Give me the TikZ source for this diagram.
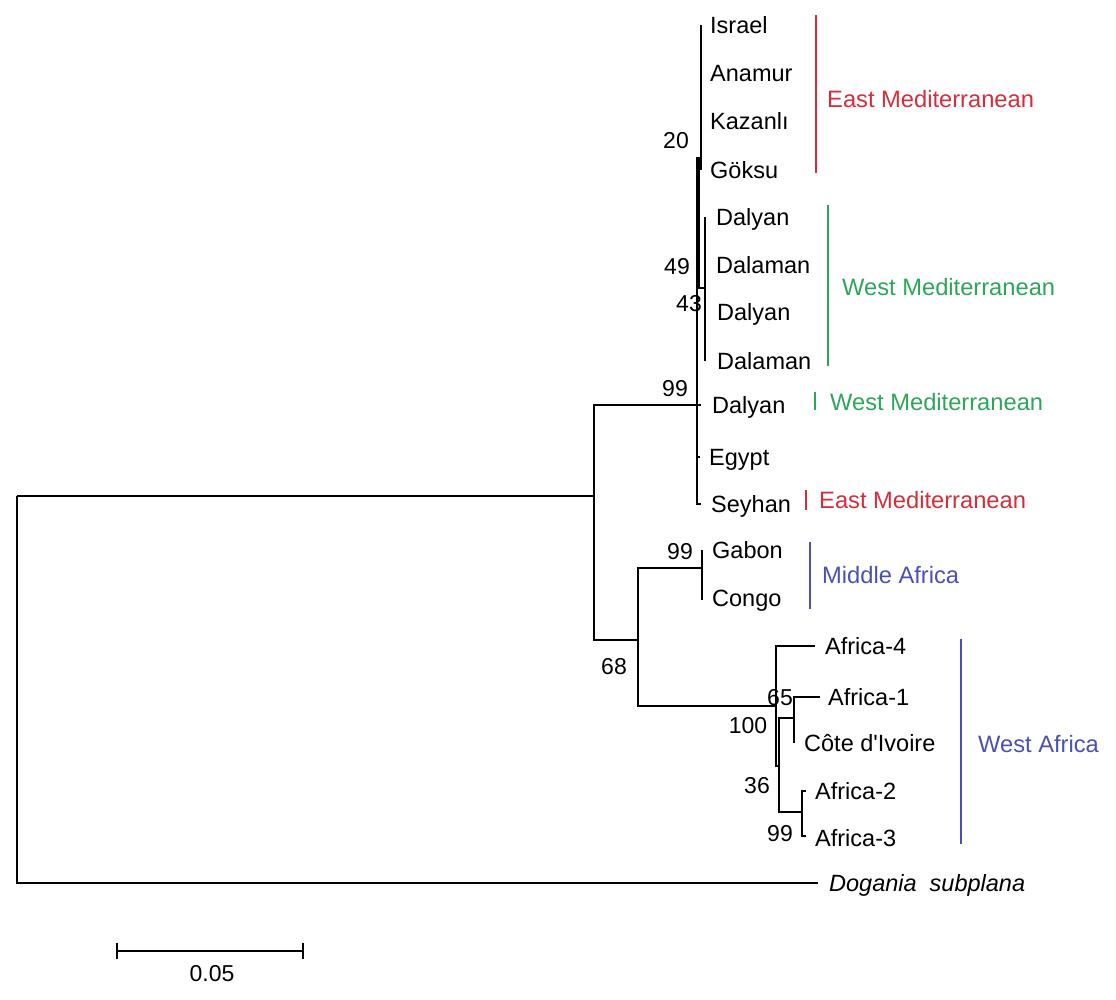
\documentclass[tikz,border=0pt]{standalone}
\usepackage{fontspec}
\setmainfont{Liberation Sans}
\definecolor{emred}{RGB}{212,45,60}
\definecolor{wmgreen}{RGB}{45,165,90}
\definecolor{afblue}{RGB}{75,80,180}

\begin{document}
\begin{tikzpicture}[x=1pt, y=-1pt]
        \tikzstyle{taxon}   = [anchor=west, inner sep=0pt, text height=16.8pt, text depth=0pt, font=\fontsize{23.5}{28}\selectfont]
        \tikzstyle{support} = [inner sep=0pt, text height=16.5pt, text depth=0pt, font=\fontsize{23}{27}\selectfont]
        \tikzstyle{region}  = [anchor=west, inner sep=0pt, text height=16.8pt, text depth=0pt, font=\fontsize{23.7}{28}\selectfont]
        \tikzstyle{branch}  = [line width=2pt]
        \tikzstyle{twig}    = [line width=1.1pt]
        \tikzstyle{bar}     = [line width=2pt]

        \useasboundingbox (0,0) rectangle (1116,1000);

        % inner nodes of the tree
        \coordinate (root) at ( 17, 496);
        \coordinate (n1)   at (594, 496);
        \coordinate (n2)   at (697, 405);
        \coordinate (n3)   at (699, 158);
        \coordinate (n4)   at (701, 158);
        \coordinate (n5)   at (705, 288);
        \coordinate (n6)   at (638, 640);
        \coordinate (n7)   at (702, 568);
        \coordinate (n8)   at (776, 706);
        \coordinate (n9)   at (779, 766);
        \coordinate (n10)  at (794, 718);
        \coordinate (n11)  at (802, 812);

        % tips
        \coordinate (med_l1_t)  at (701,  25);
        \coordinate (med_l2_t)  at (701,  73);
        \coordinate (med_l3_t)  at (701, 121);
        \coordinate (med_l4_t)  at (701, 170);
        \coordinate (med_l5_t)  at (705, 217);
        \coordinate (med_l6_t)  at (705, 265);
        \coordinate (med_l7_t)  at (705, 312);
        \coordinate (med_l8_t)  at (705, 361);
        \coordinate (med_l9_t)  at (701, 405);
        \coordinate (med_l10_t) at (700, 457);
        \coordinate (med_l11_t) at (701, 504);
        \coordinate (maf_l1_t)  at (702, 550);
        \coordinate (maf_l2_t)  at (702, 600);
        \coordinate (waf_l1_t)  at (815, 646);
        \coordinate (waf_l2_t)  at (820, 697);
        \coordinate (waf_l3_t)  at (794, 743);
        \coordinate (waf_l4_t)  at (806, 791);
        \coordinate (waf_l5_t)  at (806, 836);
        \coordinate (og_t)      at (818, 883);

        % taxa
        \node[taxon] at (710,  25) (med_l1)  {Israel};
        \node[taxon] at (710,  73) (med_l2)  {Anamur};
        \node[taxon] at (710, 121) (med_l3)  {Kazanlı};
        \node[taxon] at (710, 170) (med_l4)  {Göksu};
        \node[taxon] at (716, 217) (med_l5)  {Dalyan};
        \node[taxon] at (716, 265) (med_l6)  {Dalaman};
        \node[taxon] at (717, 312) (med_l7)  {Dalyan};
        \node[taxon] at (717, 361) (med_l8)  {Dalaman};
        \node[taxon] at (712, 405) (med_l9)  {Dalyan};
        \node[taxon] at (709, 457) (med_l10) {Egypt};
        \node[taxon] at (711, 504) (med_l11) {Seyhan};
        \node[taxon] at (712, 550) (maf_l1)  {Gabon};
        \node[taxon] at (712, 598) (maf_l2)  {Congo};
        \node[taxon] at (825, 646) (waf_l1)  {Africa-4};
        \node[taxon] at (828, 697) (waf_l2)  {Africa-1};
        \node[taxon] at (804, 743) (waf_l3)  {Côte d\textquotesingle Ivoire};
        \node[taxon] at (815, 791) (waf_l4)  {Africa-2};
        \node[taxon] at (815, 838) (waf_l5)  {Africa-3};
        \node[taxon, font=\fontsize{23.5}{28}\selectfont\itshape] at (829, 883) (og) {Dogania\hspace{13pt}subplana};

        \draw[branch]
          (root) |- (n1)
          (root) |- (og_t)
          (n1)   |- (n2)
          (n1)   |- (n6)
          (n2)   |- (n3)
          (n2)   |- (med_l9_t)
          (n2)   |- (med_l10_t)
          (n2)   |- (med_l11_t)
          (n6)   |- (n7)
          (n6)   |- (n8)
          (n7)   |- (maf_l1_t)
          (n7)   |- (maf_l2_t)
          (n8)   |- (waf_l1_t)
          (n8)   |- (n9)
          (n9)   |- (n10)
          (n9)   |- (n11)
          (n10)  |- (waf_l2_t)
          (n10)  |- (waf_l3_t)
          (n11)  |- (waf_l4_t)
          (n11)  |- (waf_l5_t)
        ;

        \draw[twig]
          (n3) |- (n4)
          (n3) |- (n5)
          (n4) |- (med_l1_t)
          (n4) |- (med_l2_t)
          (n4) |- (med_l3_t)
          (n4) |- (med_l4_t)
          (n5) |- (med_l5_t)
          (n5) |- (med_l6_t)
          (n5) |- (med_l7_t)
          (n5) |- (med_l8_t)
        ;

        % bootstrap values
        \node[support] at (676, 140) (bs4)  {20};
        \node[support] at (677, 266) (bs5)  {49};
        \node[support] at (689, 303) (bs3)  {43};
        \node[support] at (675, 388) (bs2)  {99};
        \node[support] at (680, 551) (bs7)  {99};
        \node[support] at (614, 666) (bs6)  {68};
        \node[support] at (780, 697) (bs10) {65};
        \node[support] at (748, 725) (bs8)  {100};
        \node[support] at (757, 785) (bs9)  {36};
        \node[support] at (780, 833) (bs11) {99};

        % regions
        \coordinate (em1_a) at (816,  15);  \coordinate (em1_b) at (816, 173);
        \coordinate (wm1_a) at (828, 205);  \coordinate (wm1_b) at (828, 366);
        \coordinate (wm2_a) at (815, 392);  \coordinate (wm2_b) at (815, 410);
        \coordinate (em2_a) at (806, 490);  \coordinate (em2_b) at (806, 510);
        \coordinate (maf_a) at (810, 542);  \coordinate (maf_b) at (810, 609);
        \coordinate (waf_a) at (961, 639);  \coordinate (waf_b) at (961, 844);

        \draw[bar, emred]   (em1_a) -- (em1_b)  (em2_a) -- (em2_b);
        \draw[bar, wmgreen] (wm1_a) -- (wm1_b)  (wm2_a) -- (wm2_b);
        \draw[bar, afblue]  (maf_a) -- (maf_b)  (waf_a) -- (waf_b);

        \node[region, text=emred]   at (827,  99) (em1) {East Mediterranean};
        \node[region, text=wmgreen] at (842, 287) (wm1) {West Mediterranean};
        \node[region, text=wmgreen] at (830, 402) (wm2) {West Mediterranean};
        \node[region, text=emred]   at (819, 500) (em2) {East Mediterranean};
        \node[region, text=afblue]  at (822, 575) (maf) {Middle Africa};
        \node[region, text=afblue]  at (978, 744) (waf) {West Africa};

        % scale bar
        \coordinate (sb_l) at (117, 951);
        \coordinate (sb_r) at (303, 951);
        \draw[branch] (sb_l) -- (sb_r)
          ([yshift=8pt]sb_l) -- ([yshift=-8pt]sb_l)
          ([yshift=8pt]sb_r) -- ([yshift=-8pt]sb_r);
        \node[support] at (212, 973) (sb) {0.05};
\end{tikzpicture}
\end{document}
